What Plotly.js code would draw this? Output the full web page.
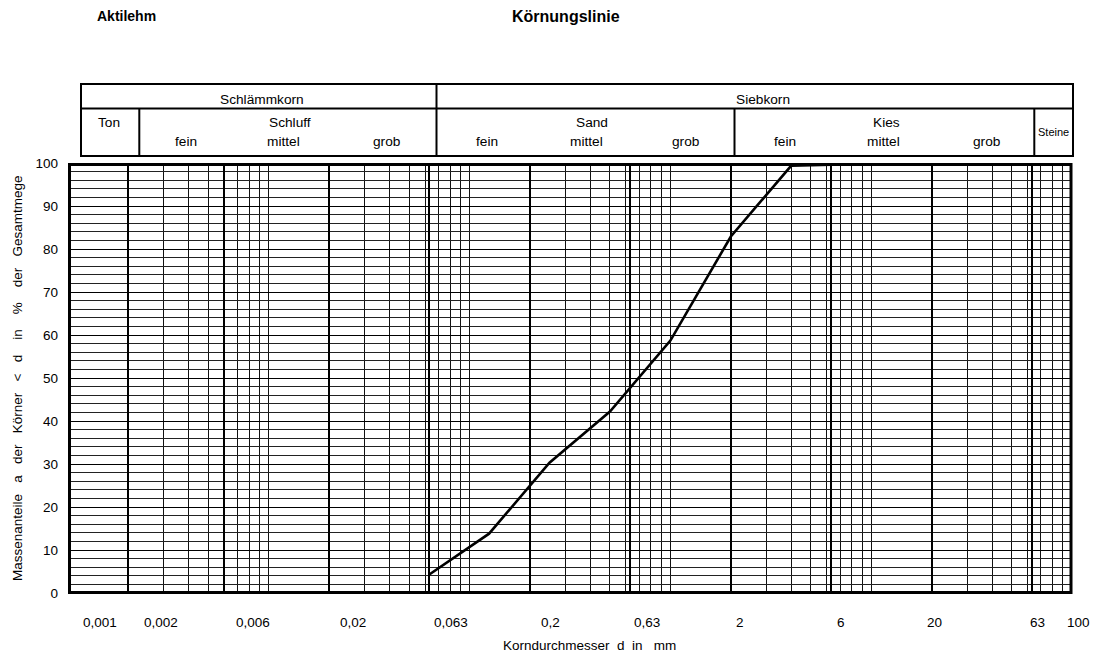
<!DOCTYPE html>
<html><head><meta charset="utf-8">
<script src="https://cdn.plot.ly/plotly-3.0.1.min.js"></script>
<style>html,body{margin:0;padding:0;background:#fff}</style>
</head><body><div id="chart" style="width:1097px;height:657px"></div>
<script>
// ---- data ----
const sieveSizes = [0.063, 0.125, 0.25, 0.5, 1, 2, 4, 8];
const passingPct = [4.3, 13.8, 30.3, 42.2, 58.7, 82.9, 99.4, 99.7];
const xTickValues = [0.001, 0.002, 0.006, 0.02, 0.063, 0.2, 0.63, 2, 6, 20, 63, 100];
const xTickLabels = ['0,001', '0,002', '0,006', '0,02', '0,063', '0,2', '0,63', '2', '6', '20', '63', '100'];
const boundaryLines = [0.002, 0.006, 0.02, 0.063, 0.2, 0.63, 2, 6.3, 20, 63];
const yTickValues = [0, 10, 20, 30, 40, 50, 60, 70, 80, 90, 100];

// ---- layout helpers ----
const W = 1097, H = 657, L = 68, R = 25, T = 163, B = 64;
const pw = W - L - R, ph = H - T - B;
const px = x => (x - L) / pw;
const py = y => (H - B - y) / ph;
const FONT = 'Liberation Sans, Arial, sans-serif';
const gap = n => '\u00A0'.repeat(n);

// minor grid: 1..9 per decade
const minorVals = [];
for (let e = -3; e <= 1; e++) for (let m = 1; m <= 9; m++) minorVals.push(+(m * Math.pow(10, e)).toPrecision(3));
minorVals.push(100);

// label pixel shifts (labels are offset to the right of their grid lines in the sheet)
const labelShift = [32, 33, 29, 24, 22, 20, 17, 9, 14, 3, 6, 6];

const shapes = [];
function hline(y, x0, x1, w) { shapes.push({type: 'line', xref: 'paper', yref: 'paper', x0: px(x0), x1: px(x1), y0: py(y), y1: py(y), line: {color: '#000', width: w}}); }
function vline(x, y0, y1, w) { shapes.push({type: 'line', xref: 'paper', yref: 'paper', x0: px(x), x1: px(x), y0: py(y0), y1: py(y1), line: {color: '#000', width: w}}); }
// header table
shapes.push({type: 'rect', xref: 'paper', yref: 'paper', x0: px(81), x1: px(1073), y0: py(84), y1: py(156), line: {color: '#000', width: 2}});
hline(108.5, 81, 1073, 2);
vline(436.5, 84, 156, 2);
vline(139.3, 108.5, 156, 2);
vline(734.5, 108.5, 156, 2);
vline(1034.3, 108.5, 156, 2);
// plot frame
shapes.push({type: 'rect', xref: 'paper', yref: 'paper', x0: px(69.5), x1: px(1071), y0: py(164.5), y1: py(592.5), line: {color: '#000', width: 3}, layer: 'above'});

const annotations = [];
function txt(t, x, y, size, extra) {
  annotations.push(Object.assign({text: t, xref: 'paper', yref: 'paper', x: px(x), y: py(y), xanchor: 'center', yanchor: 'middle', showarrow: false, font: {family: FONT, size: size, color: '#000'}}, extra || {}));
}
txt('<b>Aktilehm</b>', 126, 16, 14);
txt('<b>Körnungslinie</b>', 566, 16, 16);
txt('Schlämmkorn', 262, 99, 13.7);
txt('Siebkorn', 763, 99, 13.7);
txt('Ton', 109, 122.5, 13.7);
txt('Schluff', 290, 122.5, 13.7);
txt('fein', 186, 141.5, 13.7);
txt('mittel', 283, 141.5, 13.7);
txt('grob', 387, 141.5, 13.7);
txt('Sand', 591.5, 122.5, 13.7);
txt('fein', 486.5, 141.5, 13.7);
txt('mittel', 586.5, 141.5, 13.7);
txt('grob', 686, 141.5, 13.7);
txt('Kies', 886.5, 122.5, 13.7);
txt('fein', 785, 141.5, 13.7);
txt('mittel', 883, 141.5, 13.7);
txt('grob', 986.5, 141.5, 13.7);
txt('Steine', 1053, 132, 11);
txt('Korndurchmesser' + gap(2) + 'd' + gap(2) + 'in' + gap(3) + 'mm', 589, 645, 13.5);
txt('Massenanteile' + gap(3) + 'a' + gap(3) + 'der' + gap(3) + 'Körner' + gap(3) + '<' + gap(3) + 'd' + gap(4) + 'in' + gap(4) + '%' + gap(4) + 'der' + gap(3) + 'Gesamtmege', 17, 378, 13.5, {textangle: -90});

xTickValues.forEach((v, i) => {
  annotations.push({text: xTickLabels[i], xref: 'x', yref: 'paper', x: Math.log10(v), y: 0, xshift: labelShift[i], yshift: -29,
    xanchor: 'center', yanchor: 'middle', showarrow: false, font: {family: FONT, size: 13.5, color: '#000'}});
});

const data = [{
  x: sieveSizes, y: passingPct, type: 'scatter', mode: 'lines',
  line: {color: '#000', width: 2.6}, hoverinfo: 'skip', showlegend: false
}];

const layout = {
  width: W, height: H,
  margin: {l: L, r: R, t: T, b: B},
  paper_bgcolor: '#fff', plot_bgcolor: '#fff',
  showlegend: false,
  font: {family: FONT, size: 13.5, color: '#000'},
  xaxis: {
    type: 'log', range: [-3, 2], tickmode: 'array', tickvals: boundaryLines,
    showticklabels: false, ticks: '', showgrid: true, gridcolor: '#000', gridwidth: 2,
    minor: {tickmode: 'array', tickvals: minorVals, showgrid: true, gridcolor: '#111', gridwidth: 1, ticks: ''},
    zeroline: false, showline: false, fixedrange: true
  },
  yaxis: {
    range: [0, 100], tickmode: 'array', tickvals: yTickValues, ticks: '', ticklabelstandoff: 9,
    showgrid: true, gridcolor: '#000', gridwidth: 1,
    minor: {dtick: 2, showgrid: true, gridcolor: '#222', gridwidth: 1, ticks: ''},
    zeroline: false, showline: false, fixedrange: true,
    tickfont: {family: FONT, size: 13.5, color: '#000'}
  },
  shapes: shapes,
  annotations: annotations
};

Plotly.newPlot('chart', data, layout, {displayModeBar: false, staticPlot: true});
</script>
</body></html>
